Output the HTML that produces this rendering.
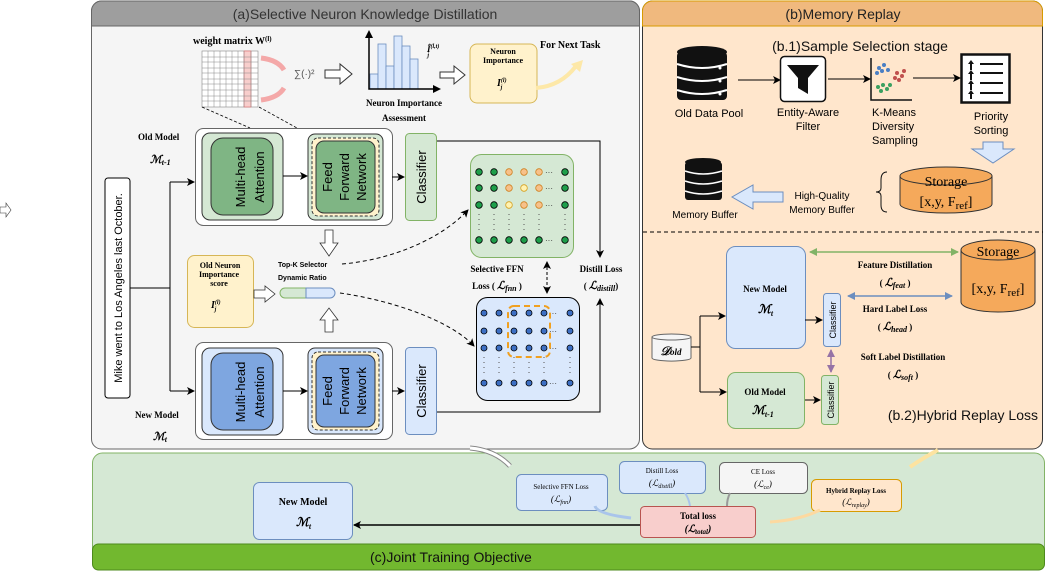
<!DOCTYPE html>
<html><head><meta charset="utf-8"><style>
body{margin:0;background:#fff;width:1052px;height:571px;overflow:hidden}
svg{display:block}
text{font-family:"Liberation Sans",sans-serif}
text.s{font-family:"Liberation Serif",serif;font-weight:bold}
text.i,tspan.i{font-family:"Liberation Serif",serif;font-style:italic;font-weight:bold}
text.r{font-family:"Liberation Serif",serif}
</style></head><body>
<svg width="1052" height="571" viewBox="0 0 1052 571" xmlns="http://www.w3.org/2000/svg">
<defs>
<marker id="ar" markerWidth="8" markerHeight="8" refX="7" refY="4" orient="auto" markerUnits="userSpaceOnUse"><path d="M0,0 L8,4 L0,8 L2,4z" fill="#000"/></marker>
<marker id="ar2" markerWidth="8" markerHeight="8" refX="1" refY="4" orient="auto" markerUnits="userSpaceOnUse"><path d="M8,0 L0,4 L8,8 L6,4z" fill="#000"/></marker>
<marker id="ga" markerWidth="8" markerHeight="8" refX="7" refY="4" orient="auto-start-reverse" markerUnits="userSpaceOnUse"><path d="M0,0 L8,4 L0,8z" fill="#82b366"/></marker>
<marker id="ba" markerWidth="8" markerHeight="8" refX="7" refY="4" orient="auto-start-reverse" markerUnits="userSpaceOnUse"><path d="M0,0 L8,4 L0,8z" fill="#6c8ebf"/></marker>
<marker id="pa" markerWidth="8" markerHeight="8" refX="7" refY="4" orient="auto-start-reverse" markerUnits="userSpaceOnUse"><path d="M0,0 L8,4 L0,8z" fill="#9673a6"/></marker>
</defs>
<path d="M0,207 h6 v-4 l5,7 l-5,7 v-4 h-6z" fill="#fff" stroke="#333" stroke-width="0.6"/>

<!-- Panel a -->
<rect x="91.5" y="1" width="548" height="448" rx="10" fill="#f5f5f5" stroke="#666"/>
<path d="M91.5,26 V11 a10,10 0 0 1 10,-10 H629.5 a10,10 0 0 1 10,10 V26z" fill="#9e9e9e" stroke="#666"/>
<text x="365" y="19" font-size="14" text-anchor="middle" fill="#333">(a)Selective Neuron Knowledge Distillation</text>

<!-- Panel b -->
<rect x="642.5" y="1" width="400" height="448" rx="10" fill="#ffe6cc" stroke="#333"/>
<path d="M642.5,26 V11 a10,10 0 0 1 10,-10 H1032.5 a10,10 0 0 1 10,10 V26z" fill="#f0b97e" stroke="#d79b00"/>
<text x="843" y="19" font-size="14" text-anchor="middle" fill="#222">(b)Memory Replay</text>

<!-- Panel c -->
<rect x="92.5" y="453" width="952" height="117" rx="10" fill="#d5e8d4" stroke="#82b366"/>
<rect x="92.5" y="544" width="952" height="26" rx="6" fill="#72b82f" stroke="#4d8a1c"/>
<text x="370" y="562" font-size="14" fill="#111">(c)Joint Training Objective</text>

<!-- weight matrix -->
<text x="193" y="44" class="s" font-size="10">weight matrix  W<tspan font-size="7" dy="-3">(l)</tspan></text>
<rect x="202" y="51" width="56" height="56" fill="#fff" stroke="#888" stroke-width="0.6"/>
<rect x="244" y="51" width="7" height="56" fill="#f8cecc" stroke="#e06666" stroke-width="0.6"/>
<g stroke="#888" stroke-width="0.5">
<path d="M208,51V107M214,51V107M220,51V107M226,51V107M232,51V107M238,51V107M244,51V107M251,51V107M202,57H258M202,62H258M202,68H258M202,73H258M202,79H258M202,84H258M202,90H258M202,96H258M202,101H258"/>
</g>
<path d="M261,58 q17,2 23,12" stroke="#f4a8a8" stroke-width="5" fill="none"/>
<path d="M261,100 q17,-2 23,-12" stroke="#f4a8a8" stroke-width="5" fill="none"/>
<text x="294" y="77" font-size="10" fill="#555">∑(·)²</text>
<path d="M325,70 h15 v-6 l12,10 l-12,10 v-6 h-15z" fill="#fff" stroke="#333"/>
<g fill="#dae8fc" stroke="#6c8ebf" stroke-width="0.8">
<rect x="370" y="74" width="8" height="15"/><rect x="378" y="44" width="8" height="45"/><rect x="386" y="66" width="8" height="23"/><rect x="394" y="36" width="8" height="53"/><rect x="402" y="46" width="8" height="43"/><rect x="410" y="59" width="8" height="30"/>
</g>
<path d="M369,34 V89 H436" stroke="#000" stroke-width="1.5" fill="none"/>
<path d="M365,38 l4,-8 l4,8z M433,85 l8,4 l-8,4z"/>
<text x="427" y="52" class="i" font-size="9">Î<tspan font-size="6" dy="-4">(l,t)</tspan><tspan font-size="6" dx="-12" dy="9">j</tspan></text>
<text x="404" y="106" class="s" font-size="9" text-anchor="middle">Neuron Importance</text>
<text x="404" y="121" class="s" font-size="9" text-anchor="middle">Assessment</text>
<path d="M440,72 h14 v-6 l11,9 l-11,9 v-6 h-14z" fill="#fff" stroke="#333"/>
<rect x="470" y="44" width="67" height="59" rx="7" fill="#fff2cc" stroke="#d6b656"/>
<text x="503" y="54" class="s" font-size="8" text-anchor="middle">Neuron</text>
<text x="503" y="63" class="s" font-size="8" text-anchor="middle">Importance</text>
<text x="497" y="86" class="i" font-size="10">I<tspan font-size="6" dy="-4">(l)</tspan><tspan font-size="6" dx="-6" dy="7">j</tspan></text>
<path d="M536,88 q25,-2 40,-22" stroke="#fde8a8" stroke-width="4" fill="none"/>
<path d="M571,64 l12,-4 l-3,12z" fill="#fde8a8"/>
<text x="540" y="48" class="s" font-size="10">For Next Task</text>
<path d="M202,107 L250,128 M259,107 L297,128" stroke="#000" stroke-dasharray="3,2" stroke-width="0.8"/>

<!-- Old model -->
<text x="138" y="140" class="s" font-size="9">Old Model</text>
<text x="150" y="163" class="i" font-size="11">ℳ<tspan font-size="8" dy="2">t-1</tspan></text>
<rect x="195.5" y="128.5" width="197" height="97" rx="8" fill="#fff" stroke="#666"/>
<rect x="202" y="133" width="81" height="87" rx="8" fill="#d5e8d4" stroke="#333"/>
<rect x="211" y="138" width="62" height="77" rx="12" fill="#7fb584" stroke="#333"/>
<text transform="translate(248,177) rotate(-90)" font-size="13" text-anchor="middle"><tspan x="0" dy="-3">Multi-head</tspan><tspan x="0" dy="19">Attention</tspan></text>
<rect x="308" y="134" width="75" height="86" rx="7" fill="#d5e8d4" stroke="#333"/>
<rect x="312" y="138" width="67" height="78" rx="6" fill="#fff2cc" stroke="#333" stroke-dasharray="3,2"/>
<rect x="316" y="141" width="59" height="72" rx="8" fill="#7fb584" stroke="#333"/>
<text transform="translate(345,177) rotate(-90)" font-size="13" text-anchor="middle"><tspan x="0" dy="-13">Feed</tspan><tspan x="0" dy="17">Forward</tspan><tspan x="0" dy="17">Network</tspan></text>
<path d="M283,176 H307" stroke="#000" marker-end="url(#ar)"/>
<path d="M392,177 H404" stroke="#000" marker-end="url(#ar)"/>
<rect x="405.5" y="133.5" width="31" height="87" rx="4" fill="#d5e8d4" stroke="#82b366"/>
<text transform="translate(426,177) rotate(-90)" font-size="13" text-anchor="middle">Classifier</text>

<!-- New model -->
<text x="135" y="418" class="s" font-size="9">New Model</text>
<text x="153" y="440" class="i" font-size="11">ℳ<tspan font-size="8" dy="2">t</tspan></text>
<rect x="195.5" y="342.5" width="197" height="97" rx="8" fill="#fff" stroke="#666"/>
<rect x="202" y="348" width="81" height="87" rx="8" fill="#dae8fc" stroke="#333"/>
<rect x="211" y="353" width="62" height="77" rx="12" fill="#7ea6e0" stroke="#333"/>
<text transform="translate(248,392) rotate(-90)" font-size="13" text-anchor="middle"><tspan x="0" dy="-3">Multi-head</tspan><tspan x="0" dy="19">Attention</tspan></text>
<rect x="308" y="348" width="75" height="86" rx="7" fill="#dae8fc" stroke="#333"/>
<rect x="312" y="352" width="67" height="78" rx="6" fill="#fff2cc" stroke="#333" stroke-dasharray="3,2"/>
<rect x="316" y="355" width="59" height="72" rx="8" fill="#7ea6e0" stroke="#333"/>
<text transform="translate(345,391) rotate(-90)" font-size="13" text-anchor="middle"><tspan x="0" dy="-13">Feed</tspan><tspan x="0" dy="17">Forward</tspan><tspan x="0" dy="17">Network</tspan></text>
<path d="M283,391 H307" stroke="#000" marker-end="url(#ar)"/>
<path d="M392,391 H404" stroke="#000" marker-end="url(#ar)"/>
<rect x="405.5" y="347.5" width="31" height="87" rx="4" fill="#dae8fc" stroke="#6c8ebf"/>
<text transform="translate(426,391) rotate(-90)" font-size="13" text-anchor="middle">Classifier</text>

<!-- input text -->
<rect x="105" y="178" width="25" height="220" rx="3" fill="#fff" stroke="#000"/>
<text transform="translate(122,288) rotate(-90)" font-size="11" text-anchor="middle">Mike went to Los Angeles last October.</text>
<path d="M130,288 H170 M170,182 V391" stroke="#000" fill="none"/>
<path d="M170,182 H194" stroke="#000" marker-end="url(#ar)"/>
<path d="M170,391 H194" stroke="#000" marker-end="url(#ar)"/>

<!-- Top-K -->
<path d="M325,230 h8 v13 h5 l-9,13 l-9,-13 h5z" fill="#fff" stroke="#333" stroke-width="0.8"/>
<path d="M325,332 h8 v-12 h5 l-9,-12 l-9,12 h5z" fill="#fff" stroke="#333" stroke-width="0.8"/>
<text x="278" y="267" font-size="7" font-weight="bold">Top-K Selector</text>
<text x="278" y="280" font-size="7" font-weight="bold">Dynamic Ratio</text>
<rect x="187.5" y="255.5" width="66" height="72" rx="7" fill="#fff2cc" stroke="#d6b656"/>
<text x="220" y="268" class="s" font-size="8" text-anchor="middle">Old Neuron</text>
<text x="219" y="277" class="s" font-size="8" text-anchor="middle">Importance</text>
<text x="219" y="286" class="s" font-size="8" text-anchor="middle">score</text>
<text x="211" y="308" class="i" font-size="10">I<tspan font-size="6" dy="-4">(l)</tspan><tspan font-size="6" dx="-6" dy="7">j</tspan></text>
<path d="M254,290 h11 v-4 l10,8 l-10,8 v-4 h-11z" fill="#fff" stroke="#333" stroke-width="0.8"/>
<path d="M285,288 h21 v10 h-21 a5,5 0 0 1 0,-10z" fill="#d5e8d4" stroke="#82b366"/>
<path d="M306,288 h24 a5,5 0 0 1 0,10 h-24z" fill="#dae8fc" stroke="#6c8ebf"/>
<path d="M342,264 C390,260 440,240 468,210" stroke="#000" stroke-dasharray="4,3" fill="none" marker-end="url(#ar)"/>
<path d="M340,293 C390,300 450,320 474,346" stroke="#000" stroke-dasharray="4,3" fill="none" marker-end="url(#ar)"/>

<!-- green grid -->
<rect x="470.5" y="154.5" width="103" height="103" rx="11" fill="#d5e8d4" stroke="#82b366"/>
<g stroke="#000" stroke-width="0.8">
<g fill="#1e9e4a"><circle cx="479" cy="172" r="3.3"/><circle cx="494" cy="172" r="3.3"/><circle cx="565" cy="172" r="3.3"/><circle cx="479" cy="188" r="3.3"/><circle cx="494" cy="188" r="3.3"/><circle cx="565" cy="188" r="3.3"/><circle cx="479" cy="205" r="3.3"/><circle cx="494" cy="205" r="3.3"/><circle cx="565" cy="205" r="3.3"/><circle cx="479" cy="240" r="3.3"/><circle cx="494" cy="240" r="3.3"/><circle cx="509" cy="240" r="3.3"/><circle cx="524" cy="240" r="3.3"/><circle cx="539" cy="240" r="3.3"/><circle cx="565" cy="240" r="3.3"/></g>
<g fill="#f7c18a" stroke="#d08020"><circle cx="509" cy="172" r="3.3"/><circle cx="524" cy="172" r="3.3"/><circle cx="539" cy="172" r="3.3"/><circle cx="509" cy="188" r="3.3"/><circle cx="539" cy="188" r="3.3"/><circle cx="524" cy="205" r="3.3"/><circle cx="539" cy="205" r="3.3"/></g>
<g fill="#fff2b0" stroke="#d6a020"><circle cx="524" cy="188" r="3.3"/><circle cx="509" cy="205" r="3.3"/></g>
</g>
<g fill="#333" font-size="8"><text x="545" y="175">···</text><text x="545" y="191">···</text><text x="545" y="208">···</text><text x="545" y="243">···</text></g>
<g stroke="#555" stroke-dasharray="1,4"><path d="M479,214V232M494,214V232M509,214V232M524,214V232M539,214V232M565,214V232"/></g>

<!-- blue grid -->
<rect x="476.5" y="297.5" width="103" height="103" rx="11" fill="#dae8fc" stroke="#000"/>
<g fill="#3d6fc4" stroke="#000" stroke-width="0.8">
<circle cx="484" cy="313" r="3"/><circle cx="499" cy="313" r="3"/><circle cx="514" cy="313" r="3"/><circle cx="529" cy="313" r="3"/><circle cx="544" cy="313" r="3"/><circle cx="570" cy="313" r="3"/>
<circle cx="484" cy="331" r="3"/><circle cx="499" cy="331" r="3"/><circle cx="514" cy="331" r="3"/><circle cx="529" cy="331" r="3"/><circle cx="544" cy="331" r="3"/><circle cx="570" cy="331" r="3"/>
<circle cx="484" cy="348" r="3"/><circle cx="499" cy="348" r="3"/><circle cx="514" cy="348" r="3"/><circle cx="529" cy="348" r="3"/><circle cx="544" cy="348" r="3"/><circle cx="570" cy="348" r="3"/>
<circle cx="484" cy="383" r="3"/><circle cx="499" cy="383" r="3"/><circle cx="514" cy="383" r="3"/><circle cx="529" cy="383" r="3"/><circle cx="544" cy="383" r="3"/><circle cx="570" cy="383" r="3"/>
</g>
<g fill="#333" font-size="8"><text x="549" y="316">···</text><text x="549" y="334">···</text><text x="549" y="351">···</text><text x="549" y="386">···</text></g>
<g stroke="#555" stroke-dasharray="1,4"><path d="M484,357V376M499,357V376M514,357V376M529,357V376M544,357V376M570,357V376"/></g>
<rect x="508" y="306" width="42" height="51" rx="6" fill="none" stroke="#f0a020" stroke-width="2" stroke-dasharray="6,4"/>

<path d="M547,262 V293" stroke="#000" stroke-dasharray="3,2" marker-start="url(#ar2)" marker-end="url(#ar)"/>
<text x="497" y="272" class="s" font-size="9" text-anchor="middle">Selective FFN</text>
<text x="497" y="289" class="s" font-size="9" text-anchor="middle">Loss ( <tspan class="i" font-size="11">ℒ<tspan font-size="8" dy="2">fnn</tspan></tspan><tspan dy="-2"> )</tspan></text>
<text x="601" y="272" class="s" font-size="9" text-anchor="middle">Distill Loss</text>
<text x="601" y="289" class="s" font-size="9" text-anchor="middle">( <tspan class="i" font-size="11">ℒ<tspan font-size="8" dy="2">distill</tspan></tspan><tspan dy="-2">)</tspan></text>
<path d="M437,141 H600 V257" stroke="#000" fill="none" marker-end="url(#ar)"/>
<path d="M437,412 H600 V299" stroke="#000" fill="none" marker-end="url(#ar)"/>

<!-- Panel b contents -->
<text x="860" y="51" font-size="14" text-anchor="middle" fill="#111">(b.1)Sample Selection stage</text>
<g fill="#111"><ellipse cx="702" cy="52" rx="25" ry="6"/><rect x="677" y="52" width="50" height="48" rx="4"/></g>
<g stroke="#fff" stroke-width="2" fill="none"><path d="M677,64 q25,8 50,0 M677,77 q25,8 50,0 M677,90 q25,8 50,0"/></g>
<g fill="#fff"><circle cx="720" cy="68" r="1.5"/><circle cx="720" cy="81" r="1.5"/><circle cx="720" cy="94" r="1.5"/></g>
<text x="709" y="117" font-size="11" text-anchor="middle">Old Data Pool</text>
<path d="M738,80 H780" stroke="#000" marker-end="url(#ar)"/>
<rect x="780.5" y="56.5" width="45" height="45" rx="4" fill="#fff" stroke="#111" stroke-width="1.5"/>
<path d="M787,65 h32 l-11,13 v16 l-10,-6 v-10z" fill="#111"/>
<text x="808" y="116" font-size="11" text-anchor="middle">Entity-Aware</text>
<text x="808" y="130" font-size="11" text-anchor="middle">Filter</text>
<path d="M828,79 H870" stroke="#000" marker-end="url(#ar)"/>
<path d="M871,58 V100 H912" stroke="#111" stroke-width="1.5" fill="none"/>
<g fill="#4a7fc4"><circle cx="879" cy="68" r="2"/><circle cx="884" cy="65" r="2"/><circle cx="882" cy="71" r="2"/><circle cx="888" cy="70" r="2"/><circle cx="877" cy="73" r="2"/></g>
<g fill="#c0504d"><circle cx="897" cy="73" r="2"/><circle cx="902" cy="76" r="2"/><circle cx="899" cy="80" r="2"/><circle cx="904" cy="71" r="2"/><circle cx="895" cy="78" r="2"/></g>
<g fill="#3aa060"><circle cx="878" cy="87" r="2"/><circle cx="883" cy="85" r="2"/><circle cx="887" cy="89" r="2"/><circle cx="881" cy="91" r="2"/><circle cx="890" cy="85" r="2"/></g>
<text x="872" y="116" font-size="11">K-Means</text>
<text x="872" y="130" font-size="11">Diversity</text>
<text x="872" y="144" font-size="11">Sampling</text>
<path d="M913,78 H960" stroke="#000" marker-end="url(#ar)"/>
<rect x="961.5" y="54.5" width="48" height="48" fill="#fff" stroke="#111" stroke-width="2.5"/>
<g stroke="#111" stroke-width="2"><path d="M971,62V70M971,72V80M971,82V90M971,92V99M980,64H1003M980,73H1003M980,83H1003M980,93H1003"/></g>
<g fill="#111"><path d="M968,64l3,-4l3,4zM968,74l3,-4l3,4zM968,84l3,-4l3,4zM968,94l3,-4l3,4z"/></g>
<text x="991" y="120" font-size="11" text-anchor="middle">Priority</text>
<text x="991" y="134" font-size="11" text-anchor="middle">Sorting</text>
<path d="M983,142 h20 v7 h11 l-21,14 l-21,-14 h11z" fill="#dae8fc" stroke="#6c8ebf"/>
<path d="M900,176 v28 a46,9 0 0 0 92,0 v-28z" fill="#f5a95b" stroke="#333"/>
<ellipse cx="946" cy="176" rx="46" ry="9" fill="#f5a95b" stroke="#333"/>
<text x="946" y="186" class="r" font-size="14" text-anchor="middle">Storage</text>
<text x="946" y="206" class="r" font-size="14" text-anchor="middle">[x,y, F<tspan font-size="11" dy="3">ref</tspan><tspan dy="-3">]</tspan></text>
<path d="M887,172 q-6,0 -6,8 v8 q0,4 -5,4 q5,0 5,4 v9 q0,7 6,7" fill="none" stroke="#111"/>
<text x="822" y="199" font-size="10" text-anchor="middle">High-Quality</text>
<text x="822" y="213" font-size="10" text-anchor="middle">Memory Buffer</text>
<path d="M783,192 h-30 v-7 l-21,12 l21,12 v-7 h30z" fill="#dae8fc" stroke="#6c8ebf"/>
<g fill="#111"><ellipse cx="703" cy="162" rx="18" ry="4"/><rect x="685" y="162" width="37" height="38" rx="3"/></g>
<g stroke="#fff" stroke-width="1.5" fill="none"><path d="M685,171 q18,6 37,0 M685,181 q18,6 37,0 M685,191 q18,6 37,0"/></g>
<text x="705" y="218" font-size="10" text-anchor="middle">Memory Buffer</text>
<path d="M643,232 H1043" stroke="#000" stroke-dasharray="4,3"/>

<rect x="726.5" y="246.5" width="79" height="102" rx="9" fill="#dae8fc" stroke="#6c8ebf"/>
<text x="765" y="292" class="s" font-size="9" text-anchor="middle">New Model</text>
<text x="758" y="313" class="i" font-size="12">ℳ<tspan font-size="8" dy="3">t</tspan></text>
<rect x="823.5" y="293.5" width="17" height="53" rx="3" fill="#dae8fc" stroke="#6c8ebf"/>
<text transform="translate(836,320) rotate(-90)" font-size="9" text-anchor="middle">Classifier</text>
<rect x="727.5" y="372.5" width="77" height="56" rx="8" fill="#d5e8d4" stroke="#82b366"/>
<text x="765" y="395" class="s" font-size="9" text-anchor="middle">Old Model</text>
<text x="752" y="414" class="i" font-size="12">ℳ<tspan font-size="8" dy="3">t-1</tspan></text>
<rect x="821.5" y="375.5" width="17" height="49" rx="3" fill="#d5e8d4" stroke="#82b366"/>
<text transform="translate(834,400) rotate(-90)" font-size="9" text-anchor="middle">Classifier</text>
<path d="M805,320 H822" stroke="#000" marker-end="url(#ar)"/>
<path d="M805,400 H820" stroke="#000" marker-end="url(#ar)"/>
<path d="M831,350 V372" stroke="#9673a6" stroke-width="1.5" marker-start="url(#pa)" marker-end="url(#pa)"/>
<path d="M810,252 H958" stroke="#82b366" stroke-width="1.5" marker-start="url(#ga)" marker-end="url(#ga)"/>
<path d="M848,296 H952" stroke="#6c8ebf" stroke-width="1.5" marker-start="url(#ba)" marker-end="url(#ba)"/>
<text x="895" y="268" class="s" font-size="9" text-anchor="middle">Feature Distillation</text>
<text x="895" y="286" class="s" font-size="9" text-anchor="middle">( <tspan class="i" font-size="11">ℒ<tspan font-size="8" dy="2">feat</tspan></tspan><tspan dy="-2"> )</tspan></text>
<text x="895" y="312" class="s" font-size="9" text-anchor="middle">Hard Label Loss</text>
<text x="895" y="330" class="s" font-size="9" text-anchor="middle">( <tspan class="i" font-size="11">ℒ<tspan font-size="8" dy="2">head</tspan></tspan><tspan dy="-2"> )</tspan></text>
<text x="903" y="360" class="s" font-size="9" text-anchor="middle">Soft Label Distillation</text>
<text x="903" y="378" class="s" font-size="9" text-anchor="middle">( <tspan class="i" font-size="11">ℒ<tspan font-size="8" dy="2">soft</tspan></tspan><tspan dy="-2"> )</tspan></text>
<text x="1038" y="420" font-size="14" text-anchor="end" fill="#111">(b.2)Hybrid Replay Loss</text>
<path d="M961,250 v52 a37,10 0 0 0 74,0 v-52z" fill="#f5a95b" stroke="#333"/>
<ellipse cx="998" cy="250" rx="37" ry="10" fill="#f5a95b" stroke="#333"/>
<text x="998" y="256" class="r" font-size="14" text-anchor="middle">Storage</text>
<text x="998" y="293" class="r" font-size="14" text-anchor="middle">[x,y, F<tspan font-size="11" dy="3">ref</tspan><tspan dy="-3">]</tspan></text>
<path d="M652,337 v21 a19,3 0 0 0 39,0 v-21z" fill="#f5f5f5" stroke="#666"/>
<ellipse cx="671.5" cy="337" rx="19.5" ry="3" fill="#f5f5f5" stroke="#666"/>
<text x="671" y="355" class="i" font-size="12" text-anchor="middle">𝒟<tspan font-size="9">old</tspan></text>
<path d="M691,347 H700 M700,316 V392" stroke="#000" fill="none"/>
<path d="M700,316 H725" stroke="#000" marker-end="url(#ar)"/>
<path d="M700,392 H726" stroke="#000" marker-end="url(#ar)"/>

<!-- Panel c contents -->
<path d="M470,448 q25,2 40,18" stroke="#888" stroke-width="5" fill="none"/><path d="M470,448 q25,2 40,18" stroke="#fff" stroke-width="3" fill="none"/>
<path d="M938,450 q-15,8 -28,17" stroke="#fde3a0" stroke-width="4" fill="none"/>
<rect x="253.5" y="482.5" width="99" height="57" rx="6" fill="#dae8fc" stroke="#6c8ebf"/>
<text x="303" y="505" class="s" font-size="10" text-anchor="middle">New Model</text>
<text x="296" y="526" class="i" font-size="12">ℳ<tspan font-size="8" dy="3">t</tspan></text>
<path d="M640,525 H354" stroke="#000" stroke-width="1.5" marker-end="url(#ar)"/>
<rect x="516.5" y="474.5" width="91" height="36" rx="5" fill="#dae8fc" stroke="#6c8ebf"/>
<text x="561" y="489" class="r" font-size="7" text-anchor="middle">Selective FFN Loss</text>
<text x="561" y="502" class="r" font-size="9" font-style="italic" text-anchor="middle">(ℒ<tspan font-size="6" dy="2">fnn</tspan><tspan dy="-2">)</tspan></text>
<rect x="619.5" y="461.5" width="86" height="32" rx="5" fill="#dae8fc" stroke="#6c8ebf"/>
<text x="662" y="473" class="r" font-size="7" text-anchor="middle">Distill Loss</text>
<text x="662" y="486" class="r" font-size="9" font-style="italic" text-anchor="middle">(ℒ<tspan font-size="6" dy="2">distill</tspan><tspan dy="-2">)</tspan></text>
<rect x="719.5" y="462.5" width="88" height="31" rx="5" fill="#f5f5f5" stroke="#666"/>
<text x="763" y="474" class="r" font-size="7" text-anchor="middle">CE Loss</text>
<text x="763" y="487" class="r" font-size="9" font-style="italic" text-anchor="middle">(ℒ<tspan font-size="6" dy="2">ce</tspan><tspan dy="-2">)</tspan></text>
<rect x="811.5" y="479.5" width="90" height="32" rx="5" fill="#ffe6cc" stroke="#d79b00"/>
<text x="856" y="493" class="s" font-size="7" text-anchor="middle">Hybrid Replay Loss</text>
<text x="856" y="505" class="r" font-size="9" font-style="italic" text-anchor="middle">(ℒ<tspan font-size="6" dy="2">replay</tspan><tspan dy="-2">)</tspan></text>
<rect x="640.5" y="506.5" width="115" height="31" rx="4" fill="#f8cecc" stroke="#b85450"/>
<text x="698" y="519" class="s" font-size="9" text-anchor="middle">Total loss</text>
<text x="698" y="532" class="i" font-size="10" text-anchor="middle">(ℒ<tspan font-size="7" dy="2">total</tspan><tspan dy="-2">)</tspan></text>
<path d="M595,506 q2,8 36,12" stroke="#a9c4eb" stroke-width="3" fill="none"/>
<path d="M685,493 q4,6 5,13" stroke="#a9c4eb" stroke-width="2" fill="none"/>
<path d="M730,493 q-3,6 -3,13" stroke="#999" stroke-width="2" fill="none"/>
<path d="M820,510 q-20,10 -50,12" stroke="#fdd9a0" stroke-width="3" fill="none"/>
</svg>
</body></html>
